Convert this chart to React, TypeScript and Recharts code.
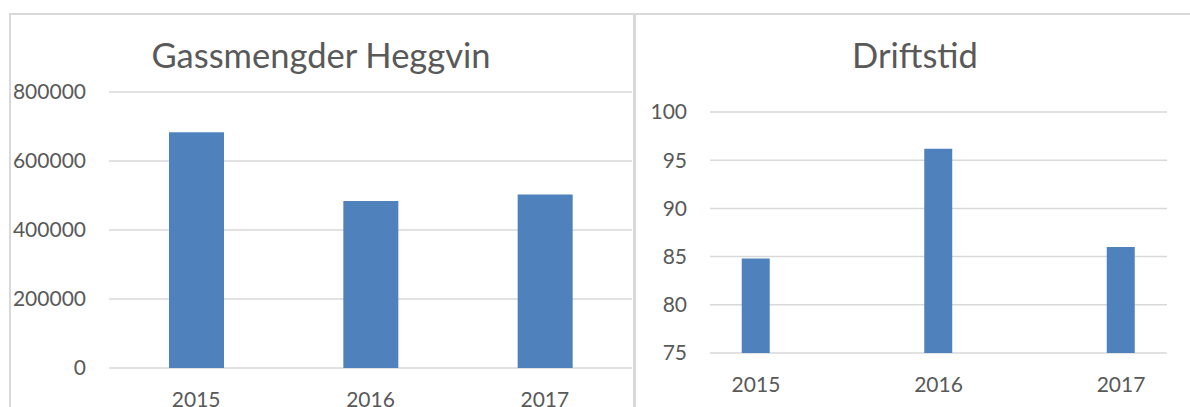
import { Bar, BarChart, CartesianGrid, XAxis, YAxis } from 'recharts'

const years = [2015, 2016, 2017]
const gassmengder = [683000, 484000, 503000]
const driftstid = [84.8, 96.2, 86.0]
const gassTicks = [0, 200000, 400000, 600000, 800000]
const driftTicks = [75, 80, 85, 90, 95, 100]

const BLUE = '#4F81BD'
const GRID = '#D9D9D9'
const TEXT = '#595959'
const FONT = 'Lato, "Liberation Sans", sans-serif'

const tickStyle = { fill: TEXT, fontSize: 21, fontFamily: FONT }

export default function App() {
  const gassData = years.map((year, i) => ({ year: String(year), value: gassmengder[i] }))
  const driftData = years.map((year, i) => ({ year, value: driftstid[i] }))

  return (
    <div style={{ position: 'absolute', left: 0, top: 0, width: 1190, height: 407, background: '#fff', overflow: 'hidden' }}>
      {/* ramme rundt diagrammene */}
      <div style={{ position: 'absolute', left: 9, top: 13, width: 622, height: 420, borderTop: `2px solid ${GRID}`, borderLeft: `2px solid ${GRID}`, borderRight: `2px solid ${GRID}` }} />
      <div style={{ position: 'absolute', left: 634, top: 13, width: 600, height: 420, borderTop: `2px solid ${GRID}`, borderLeft: `2px solid ${GRID}` }} />

      <div style={{ position: 'absolute', left: 0, top: 38, width: 642, textAlign: 'center', fontFamily: FONT, fontSize: 34.5, lineHeight: 1, color: TEXT }}>
        Gassmengder Heggvin
      </div>
      <div style={{ position: 'absolute', left: 636, top: 38, width: 558, textAlign: 'center', fontFamily: FONT, fontSize: 34.5, lineHeight: 1, color: TEXT }}>
        Driftstid
      </div>

      <div style={{ position: 'absolute', left: 0, top: 0 }}>
        <BarChart width={632} height={407} data={gassData} margin={{ top: 92, right: 0, bottom: 0, left: 0 }}>
          <CartesianGrid vertical={false} stroke={GRID} strokeWidth={1.5} />
          <XAxis dataKey="year" type="category" axisLine={false} tickLine={false} tickSize={0} tickMargin={24} height={39} tick={tickStyle} interval={0} />
          <YAxis type="number" domain={[0, 800000]} ticks={gassTicks} axisLine={false} tickLine={false} tickSize={0} tickMargin={23} width={109} tick={tickStyle} interval={0} />
          <Bar dataKey="value" fill={BLUE} barSize={55} isAnimationActive={false} />
        </BarChart>
      </div>

      <div style={{ position: 'absolute', left: 636, top: 0 }}>
        <BarChart width={554} height={407} data={driftData} margin={{ top: 112, right: 23, bottom: 0, left: 0 }}>
          <CartesianGrid vertical={false} stroke={GRID} strokeWidth={1.5} />
          <XAxis dataKey="year" type="number" domain={[2014.748, 2017.252]} ticks={years} allowDataOverflow axisLine={false} tickLine={false} tickSize={0} tickMargin={24} height={54} tick={tickStyle} interval={0} />
          <YAxis type="number" domain={[75, 100]} ticks={driftTicks} axisLine={false} tickLine={false} tickSize={0} tickMargin={23} width={74} tick={tickStyle} interval={0} />
          <Bar dataKey="value" fill={BLUE} barSize={28} isAnimationActive={false} />
        </BarChart>
      </div>
    </div>
  )
}
